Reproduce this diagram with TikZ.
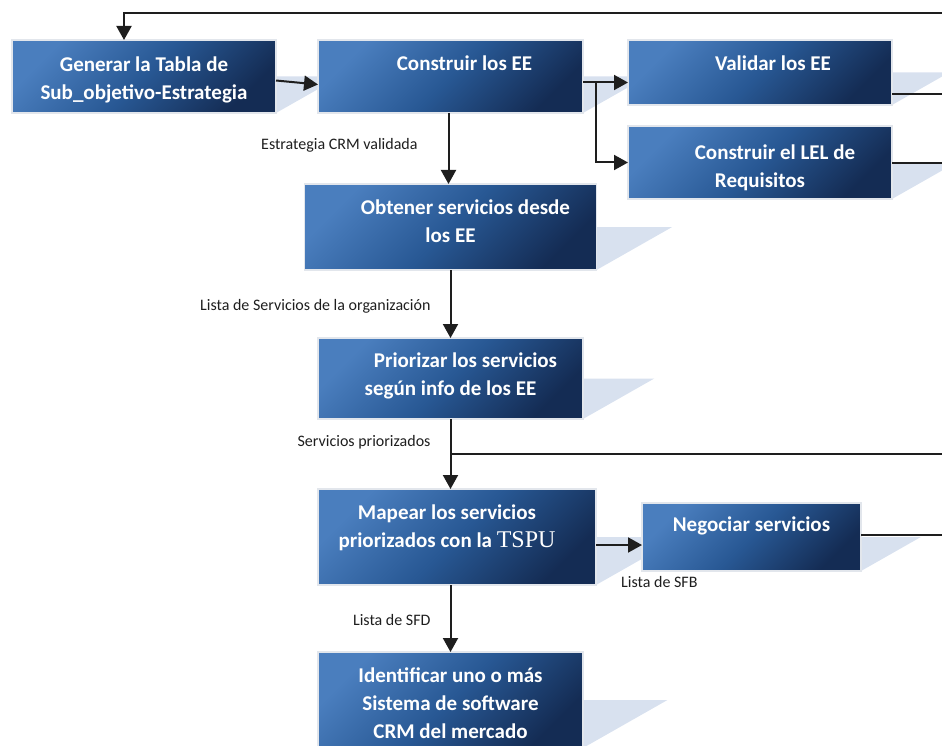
\documentclass[tikz,border=0pt]{standalone}
\usepackage{fontspec}
\setmainfont{Carlito}
\newfontfamily\tspufont{Liberation Serif}
\usepackage{xcolor}
\usetikzlibrary{positioning, arrows.meta, calc, backgrounds}

\definecolor{boxtop}{RGB}{74,126,190}
\definecolor{boxmid}{RGB}{40,88,148}
\definecolor{boxbot}{RGB}{20,44,84}
\definecolor{boxedge}{RGB}{226,230,236}
\definecolor{shadowblue}{RGB}{216,225,239}
\definecolor{linkgray}{RGB}{30,30,30}

\newcommand{\lpad}{\hspace*{30pt}}

\begin{document}
\begin{tikzpicture}[
      x=1pt, y=1pt,
      proc/.style={draw=boxedge, line width=1.8pt, outer sep=0pt, top color=boxtop, bottom color=boxbot,
                   middle color=boxmid, shading angle=45, text=white, align=center,
                   font=\bfseries\fontsize{21}{28}\selectfont, inner sep=3pt},
      lift/.style={text depth=#1},
      lead/.style={execute at begin node={\hspace*{#1}}},
      lbl/.style={font=\fontsize{16}{19}\selectfont, text=linkgray, inner sep=0pt},
      arrow/.style={-{Triangle[length=14pt,width=15pt]}, line width=2pt, draw=linkgray},
      link/.style={line width=2pt, draw=linkgray},
      shadowfill/.style={fill=shadowblue}
  ]
  \useasboundingbox (0,0) rectangle (942,-746);

  % Nodes ------------------------------------------------
  \node[proc, minimum width=264pt, minimum height=73pt, lift=0pt, text height=47pt] (gen) at (144,-76.5)
        {Generar la Tabla de\\Sub\_objetivo-Estrategia};
  \node[proc, minimum width=265pt, minimum height=73pt, lift=27pt, lead=28pt, right=42pt of gen] (cons)
        {Construir los EE};
  \node[proc, minimum width=264pt, minimum height=65pt, lift=19pt, lead=26pt,
        right=45pt of cons.north east, anchor=north west] (valid) {Validar los EE};
  \node[proc, minimum width=264pt, minimum height=73pt, lift=0pt, text height=51pt, below=21pt of valid] (lel)
        {\lpad Construir el LEL de\\Requisitos};
  \node[proc, minimum width=292pt, minimum height=86pt, lift=12pt, below=71pt of cons] (obt)
        {\lpad Obtener servicios desde\\los EE};
  \node[proc, minimum width=265pt, minimum height=81pt, lift=8pt, below=68pt of obt] (prio)
        {\lpad Priorizar los servicios\\según info de los EE};
  \node[proc, minimum width=278pt, minimum height=96pt, lift=22pt, lead=-20pt,
        below=70pt of prio.south west, anchor=north west] (mapear)
        {Mapear los servicios\\priorizados con la {\tspufont\mdseries\fontsize{24}{28}\selectfont TSPU}};
  \node[proc, minimum width=219pt, minimum height=68pt, lift=26pt, right=46pt of mapear] (negociar)
        {Negociar servicios};
  \node[proc, minimum width=265pt, minimum height=96pt, lift=0pt, text height=76pt,
        below=67pt of mapear.south west, anchor=north west] (ident)
        {Identificar uno o más\\Sistema de software\\CRM del mercado};

  % Loose ends at the right margin
  \coordinate (outtop)   at (942,-13);
  \coordinate (outvalid) at (942,-94);
  \coordinate (outlel)   at (942,-163);
  \coordinate (outprio)  at (942,-454);
  \coordinate (outneg)   at (942,-535);
  \coordinate (split)    at ([xshift=13pt,yshift=-6pt]cons.east);

  % Arrows ------------------------------------------------
  \draw[arrow] (outtop) -| ([xshift=-20pt]gen.north);
  \draw[arrow] ([yshift=-4pt]gen.east) -- ([yshift=-8pt]cons.west);
  \draw[arrow] ([yshift=-6pt]cons.east) -- (split -| valid.west);
  \draw[arrow] (split) |- (lel.west);
  \draw[link] (valid.east |- outvalid) -- (outvalid);
  \draw[link] (lel.east |- outlel) -- (outlel);
  \draw[arrow] ([xshift=-2pt]cons.south) -- node[lbl, left=30pt, pos=0.45] (lblcrm) {Estrategia CRM validada}
        ([xshift=-2pt]cons.south |- obt.north);
  \draw[arrow] (obt.south) -- node[lbl, left=19pt, pos=0.53] (lblserv) {Lista de Servicios de la organización}
        (obt.south |- prio.north);
  \draw[arrow] (prio.south) -- node[lbl, left=19pt, pos=0.33] (lblprio) {Servicios priorizados}
        (prio.south |- mapear.north);
  \draw[link] (prio.south |- outprio) -- (outprio);
  \draw[arrow] ([yshift=-8pt]mapear.east) -- ([yshift=-8pt]mapear.east -| negociar.west);
  \node[lbl, anchor=west] (lblsfb) at ([xshift=-21pt,yshift=-11pt]negociar.south west) {Lista de SFB};
  \draw[link] (negociar.east |- outneg) -- (outneg);
  \draw[arrow] (prio.south |- mapear.south) -- node[lbl, left=19pt, pos=0.52] (lblsfd) {Lista de SFD}
        (prio.south |- ident.north);

  % Shadows behind the boxes
  \begin{pgfonlayer}{background}
    \foreach \b in {gen, cons, valid, lel, obt, prio, mapear, negociar, ident}
      \fill[shadowfill] let \p1 = (\b.north), \p2 = (\b.south) in
        (\b.east) -- ++({0.88*(\y1-\y2)}, 0) -- (\b.south east) -- cycle;
  \end{pgfonlayer}
\end{tikzpicture}
\end{document}
